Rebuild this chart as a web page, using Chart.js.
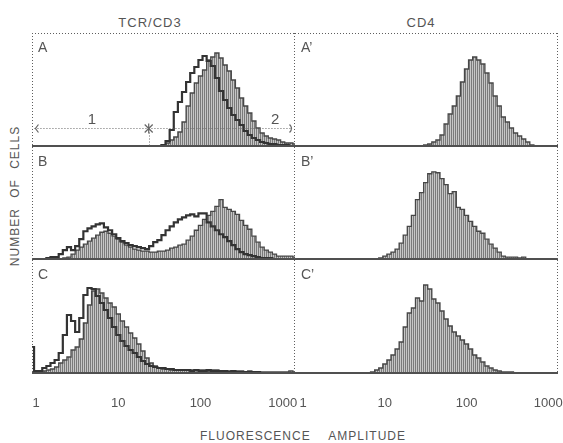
<!DOCTYPE html>
<html>
<head>
<meta charset="utf-8">
<script src="https://cdn.jsdelivr.net/npm/chart.js@4.4.0/dist/chart.umd.min.js"></script>
<style>
  html, body { margin: 0; padding: 0; background: #fff; overflow: hidden; }
  #wrap { position: relative; width: 563px; height: 443px; font-family: 'Liberation Sans', Arial, sans-serif; color: #555; }
  canvas { position: absolute; }
  .t { position: absolute; white-space: nowrap; line-height: 13px; transform: translateX(-50%); }
</style>
</head>
<body>
<div id="wrap">
  <div class="t" style="left:150px; top:16px; font-size:13px; letter-spacing:1px;">TCR/CD3</div>
  <div class="t" style="left:421px; top:16px; font-size:13px; letter-spacing:1px;">CD4</div>
  <div class="t" style="left:303px; top:430px; font-size:12px; letter-spacing:1px; word-spacing:14px;">FLUORESCENCE AMPLITUDE</div>
  <div class="t" style="left:15px; top:196px; font-size:12px; letter-spacing:1px; word-spacing:6px; transform: translate(-50%,-50%) rotate(-90deg);">NUMBER OF CELLS</div>

  <canvas id="pA"  width="273" height="114" style="left:32px;  top:33px;"></canvas>
  <canvas id="pA2" width="268" height="114" style="left:295px; top:33px;"></canvas>
  <canvas id="pB"  width="273" height="113" style="left:32px;  top:147px;"></canvas>
  <canvas id="pB2" width="268" height="113" style="left:295px; top:147px;"></canvas>
  <canvas id="pC"  width="273" height="154" style="left:32px;  top:260px;"></canvas>
  <canvas id="pC2" width="268" height="154" style="left:295px; top:260px;"></canvas>
</div>

<script>
// channel centres, in decades (log10 of fluorescence amplitude)
const channelLog = [
  -0.10, -0.05, 0.00, 0.05, 0.10, 0.15, 0.20, 0.25, 0.30, 0.35, 0.40,
  0.45, 0.50, 0.55, 0.60, 0.65, 0.70, 0.75, 0.80, 0.85, 0.90, 0.95,
  1.00, 1.05, 1.10, 1.15, 1.20, 1.25, 1.30, 1.35, 1.40, 1.45, 1.50,
  1.55, 1.60, 1.65, 1.70, 1.75, 1.80, 1.85, 1.90, 1.95, 2.00, 2.05,
  2.10, 2.15, 2.20, 2.25, 2.30, 2.35, 2.40, 2.45, 2.50, 2.55, 2.60,
  2.65, 2.70, 2.75, 2.80, 2.85, 2.90, 2.95, 3.00, 3.05, 3.10, 3.15
];

const tickDecades = [0, 1, 2, 3];
const tickLabels = ['1', '10', '100', '1000'];

// TCR/CD3 column: filled histogram + open overlay
const tcrA_fill = [
  0, 0, 0, 0, 0, 0, 0, 0, 0, 0, 0,
  0, 0, 0, 0, 0, 0, 0, 0, 0, 0, 0,
  0, 0, 0, 0, 0, 0, 0, 0, 0, 0, 0,
  1, 3, 6, 9, 14, 24, 40, 53, 63, 70, 76,
  86, 89, 93, 88, 81, 75, 66, 58, 48, 40, 33,
  25, 18, 13, 10, 8, 7, 6, 4, 3, 3, 2
];
const tcrA_open = [
  0, 0, 0, 0, 0, 0, 0, 0, 0, 0, 0,
  0, 0, 0, 0, 0, 0, 0, 0, 0, 0, 0,
  0, 0, 0, 0, 0, 0, 0, 0, 0, 0, 0,
  1, 5, 16, 34, 44, 54, 64, 73, 79, 86, 90,
  85, 80, 68, 55, 46, 38, 31, 26, 21, 15, 11,
  8, 6, 4, 3, 2, 2, 1, 1, 1, 0, 0
];
const tcrB_fill = [
  0, 0, 0, 0, 0, 0, 0, 0, 0, 1, 2,
  5, 9, 12, 15, 18, 21, 24, 27, 28, 26, 23,
  20, 17, 14, 12, 10, 9, 8, 8, 7, 7, 8,
  8, 9, 11, 12, 14, 15, 19, 23, 29, 34, 40,
  44, 48, 53, 60, 52, 50, 48, 45, 39, 34, 30,
  23, 17, 12, 9, 7, 5, 3, 3, 3, 3, 2
];
const tcrB_open = [
  0, 0, 0, 0, 0, 1, 2, 2, 5, 9, 12,
  9, 13, 20, 28, 31, 33, 35, 36, 32, 29, 25,
  21, 18, 16, 14, 13, 12, 11, 10, 13, 17, 19,
  24, 29, 33, 37, 40, 42, 44, 45, 43, 46, 46,
  37, 33, 29, 25, 22, 18, 14, 10, 7, 5, 4,
  3, 2, 1, 1, 1, 0, 0, 0, 0, 0, 0
];
const tcrC_fill = [
  0, 0, 0, 1, 2, 3, 4, 6, 10, 13, 16,
  23, 26, 34, 50, 68, 82, 84, 80, 75, 70, 66,
  59, 52, 46, 40, 35, 29, 22, 15, 10, 7, 5,
  4, 4, 3, 3, 3, 3, 3, 3, 3, 3, 3,
  2, 3, 3, 2, 2, 2, 2, 2, 2, 1, 2,
  1, 1, 1, 1, 1, 1, 1, 1, 1, 2, 1
];
const tcrC_open = [
  0, 26, 2, 2, 5, 7, 10, 13, 20, 38, 58,
  52, 41, 55, 78, 85, 84, 77, 70, 63, 55, 46,
  38, 32, 27, 23, 20, 16, 12, 9, 7, 6, 5,
  5, 4, 4, 3, 3, 3, 3, 2, 3, 2, 2,
  3, 2, 2, 2, 2, 1, 2, 1, 1, 1, 1,
  1, 1, 0, 0, 0, 0, 0, 0, 0, 0, 0
];

// CD4 column: filled histogram only
const cd4A_fill = [
  0, 0, 0, 0, 0, 0, 0, 0, 0, 0, 0,
  0, 0, 0, 0, 0, 0, 0, 0, 0, 0, 0,
  0, 0, 0, 0, 0, 0, 0, 0, 0, 0, 1,
  2, 4, 6, 11, 22, 32, 40, 50, 64, 77, 86,
  89, 86, 82, 73, 63, 50, 40, 29, 24, 18, 13,
  10, 7, 4, 1, 0, 0, 0, 0, 0, 0, 0
];
const cd4B_fill = [
  0, 0, 0, 0, 0, 0, 0, 0, 0, 0, 0,
  0, 0, 0, 0, 0, 0, 0, 0, 0, 0, 1,
  3, 5, 7, 10, 16, 24, 33, 44, 60, 67, 77,
  86, 88, 87, 81, 75, 66, 68, 52, 50, 44, 38,
  33, 28, 26, 20, 15, 11, 7, 3, 2, 2, 2,
  1, 2, 0, 0, 0, 0, 0, 0, 0, 0, 0
];
const cd4C_fill = [
  0, 0, 0, 0, 0, 0, 0, 0, 0, 0, 0,
  0, 0, 0, 0, 0, 0, 0, 0, 1, 3, 5,
  9, 13, 18, 24, 31, 46, 60, 65, 75, 72, 88,
  84, 74, 70, 62, 54, 47, 41, 37, 33, 29, 24,
  18, 15, 11, 7, 5, 3, 2, 1, 1, 1, 0,
  0, 0, 0, 0, 0, 0, 0, 0, 0, 0, 0
];

// gate drawn in panel A (decades) and its cell count level
const gateBounds = [-0.02, 1.37, 3.12];
const gateLevel = 18;
const gateNames = ['1', '2'];
const gateNameAt = [0.68, 2.91];

const textGray = '#555';
const narrowFont = "'Liberation Sans Narrow', 'Liberation Sans', Arial, sans-serif";

function makeHatch() {
    const c = document.createElement('canvas');
    c.width = 2;
    c.height = 1;
    const g = c.getContext('2d');
    g.fillStyle = '#c6c6c6';
    g.fillRect(0, 0, 2, 1);
    g.fillStyle = '#7a7a7a';
    g.fillRect(0, 0, 1, 1);
    return g.createPattern(c, 'repeat');
}

function toPoints(values) {
    return values.map((v, i) => ({ x: channelLog[i], y: v }));
}

const panelDeco = {
    id: 'panelDeco',
    afterDatasetsDraw(chart, args, opts) {
        const { ctx, chartArea: a, scales: { x, y } } = chart;
        const base = y.getPixelForValue(0);
        ctx.save();

        // solid baseline
        ctx.strokeStyle = '#505050';
        ctx.lineWidth = 2;
        ctx.beginPath();
        ctx.moveTo(a.left, base);
        ctx.lineTo(a.right, base);
        ctx.stroke();

        // dotted frame
        ctx.strokeStyle = '#5e5e5e';
        ctx.lineWidth = 1;
        ctx.setLineDash([1, 2]);
        ctx.beginPath();
        if (opts.leftEdge) {
            ctx.moveTo(a.left + 0.5, a.top);
            ctx.lineTo(a.left + 0.5, base);
        }
        ctx.moveTo(a.right - 0.5, a.top);
        ctx.lineTo(a.right - 0.5, base);
        if (opts.topEdge) {
            ctx.moveTo(a.left, a.top + 0.5);
            ctx.lineTo(a.right, a.top + 0.5);
        }
        ctx.stroke();

        // panel letter
        ctx.setLineDash([]);
        ctx.fillStyle = textGray;
        ctx.font = "14px 'Liberation Sans', Arial, sans-serif";
        ctx.textAlign = 'left';
        ctx.textBaseline = 'alphabetic';
        ctx.fillText(opts.letter, a.left + 6, a.top + 19);

        if (opts.gate) {
            const gy = Math.round(y.getPixelForValue(gateLevel)) + 0.5;
            const x0 = x.getPixelForValue(gateBounds[0]);
            const xm = x.getPixelForValue(gateBounds[1]);
            const x1 = x.getPixelForValue(gateBounds[2]);
            ctx.strokeStyle = '#666';
            ctx.setLineDash([1, 2]);
            ctx.beginPath();
            ctx.moveTo(x0, gy);
            ctx.lineTo(x1, gy);
            ctx.moveTo(Math.round(xm) + 0.5, gy + 4);
            ctx.lineTo(Math.round(xm) + 0.5, base);
            ctx.stroke();

            ctx.setLineDash([]);
            ctx.lineWidth = 1.2;
            ctx.beginPath();
            // left end mark
            ctx.moveTo(x0 + 4, gy - 4);
            ctx.lineTo(x0 + 1, gy);
            ctx.lineTo(x0 + 4, gy + 4);
            // right end mark
            ctx.moveTo(x1 - 3, gy - 4);
            ctx.quadraticCurveTo(x1 + 1, gy, x1 - 3, gy + 4);
            // asterisk at the gate split
            ctx.moveTo(xm - 4, gy - 4); ctx.lineTo(xm + 4, gy + 4);
            ctx.moveTo(xm + 4, gy - 4); ctx.lineTo(xm - 4, gy + 4);
            ctx.moveTo(xm, gy - 5); ctx.lineTo(xm, gy + 5);
            ctx.stroke();

            ctx.font = '15px ' + narrowFont;
            ctx.textAlign = 'center';
            gateNames.forEach((n, i) => {
                ctx.fillText(n, x.getPixelForValue(gateNameAt[i]), gy - 5);
            });
        }
        ctx.restore();
    }
};

const hatch = makeHatch();

function makePanel(id, fillValues, openValues, cfg) {
    const datasets = [{
        data: toPoints(fillValues),
        borderColor: '#474747',
        borderWidth: 1.3,
        backgroundColor: hatch,
        fill: 'origin',
        stepped: 'middle',
        pointRadius: 0,
        order: 2
    }];
    if (openValues) {
        datasets.push({
            data: toPoints(openValues),
            borderColor: '#333',
            borderWidth: 2.2,
            fill: false,
            stepped: 'middle',
            pointRadius: 0,
            order: 1
        });
    }

    const xAxis = {
        type: 'linear',
        min: cfg.xMin,
        max: cfg.xMax,
        display: cfg.showTicks,
        grid: { display: false, drawTicks: false },
        border: { display: false },
        ticks: {
            padding: 22,
            color: textGray,
            font: { family: narrowFont, size: 13 },
            autoSkip: false,
            maxRotation: 0,
            callback: (value, index) => tickLabels[index]
        },
        afterBuildTicks: axis => {
            axis.ticks = tickDecades.map(v => ({ value: v }));
        }
    };
    if (cfg.showTicks) {
        // fixed axis band so every bottom panel keeps the same plot height
        xAxis.afterFit = axis => {
            axis.height = 40;
            axis.paddingLeft = 0;
            axis.paddingRight = 0;
        };
    }

    new Chart(document.getElementById(id).getContext('2d'), {
        type: 'line',
        data: { datasets },
        options: {
            responsive: false,
            animation: false,
            events: [],
            layout: { padding: { left: 0, right: cfg.padRight, top: 0, bottom: 0 } },
            scales: {
                x: xAxis,
                y: { display: false, min: -1, max: 113 }
            },
            plugins: {
                legend: { display: false },
                tooltip: { enabled: false },
                panelDeco: {
                    letter: cfg.letter,
                    leftEdge: cfg.leftEdge,
                    topEdge: cfg.topEdge,
                    gate: cfg.gate
                }
            }
        },
        plugins: [panelDeco]
    });
}

const leftCol = { xMin: -0.05, xMax: 3.15, padRight: 10, leftEdge: true };
const rightCol = { xMin: -0.1, xMax: 3.12, padRight: 5, leftEdge: false };

makePanel('pA', tcrA_fill, tcrA_open, { ...leftCol, letter: 'A', topEdge: true, gate: true, showTicks: false });
makePanel('pB', tcrB_fill, tcrB_open, { ...leftCol, letter: 'B', topEdge: false, gate: false, showTicks: false });
makePanel('pC', tcrC_fill, tcrC_open, { ...leftCol, letter: 'C', topEdge: false, gate: false, showTicks: true });
makePanel('pA2', cd4A_fill, null, { ...rightCol, letter: 'A\u2019', topEdge: true, gate: false, showTicks: false });
makePanel('pB2', cd4B_fill, null, { ...rightCol, letter: 'B\u2019', topEdge: false, gate: false, showTicks: false });
makePanel('pC2', cd4C_fill, null, { ...rightCol, letter: 'C\u2019', topEdge: false, gate: false, showTicks: true });
</script>
</body>
</html>
